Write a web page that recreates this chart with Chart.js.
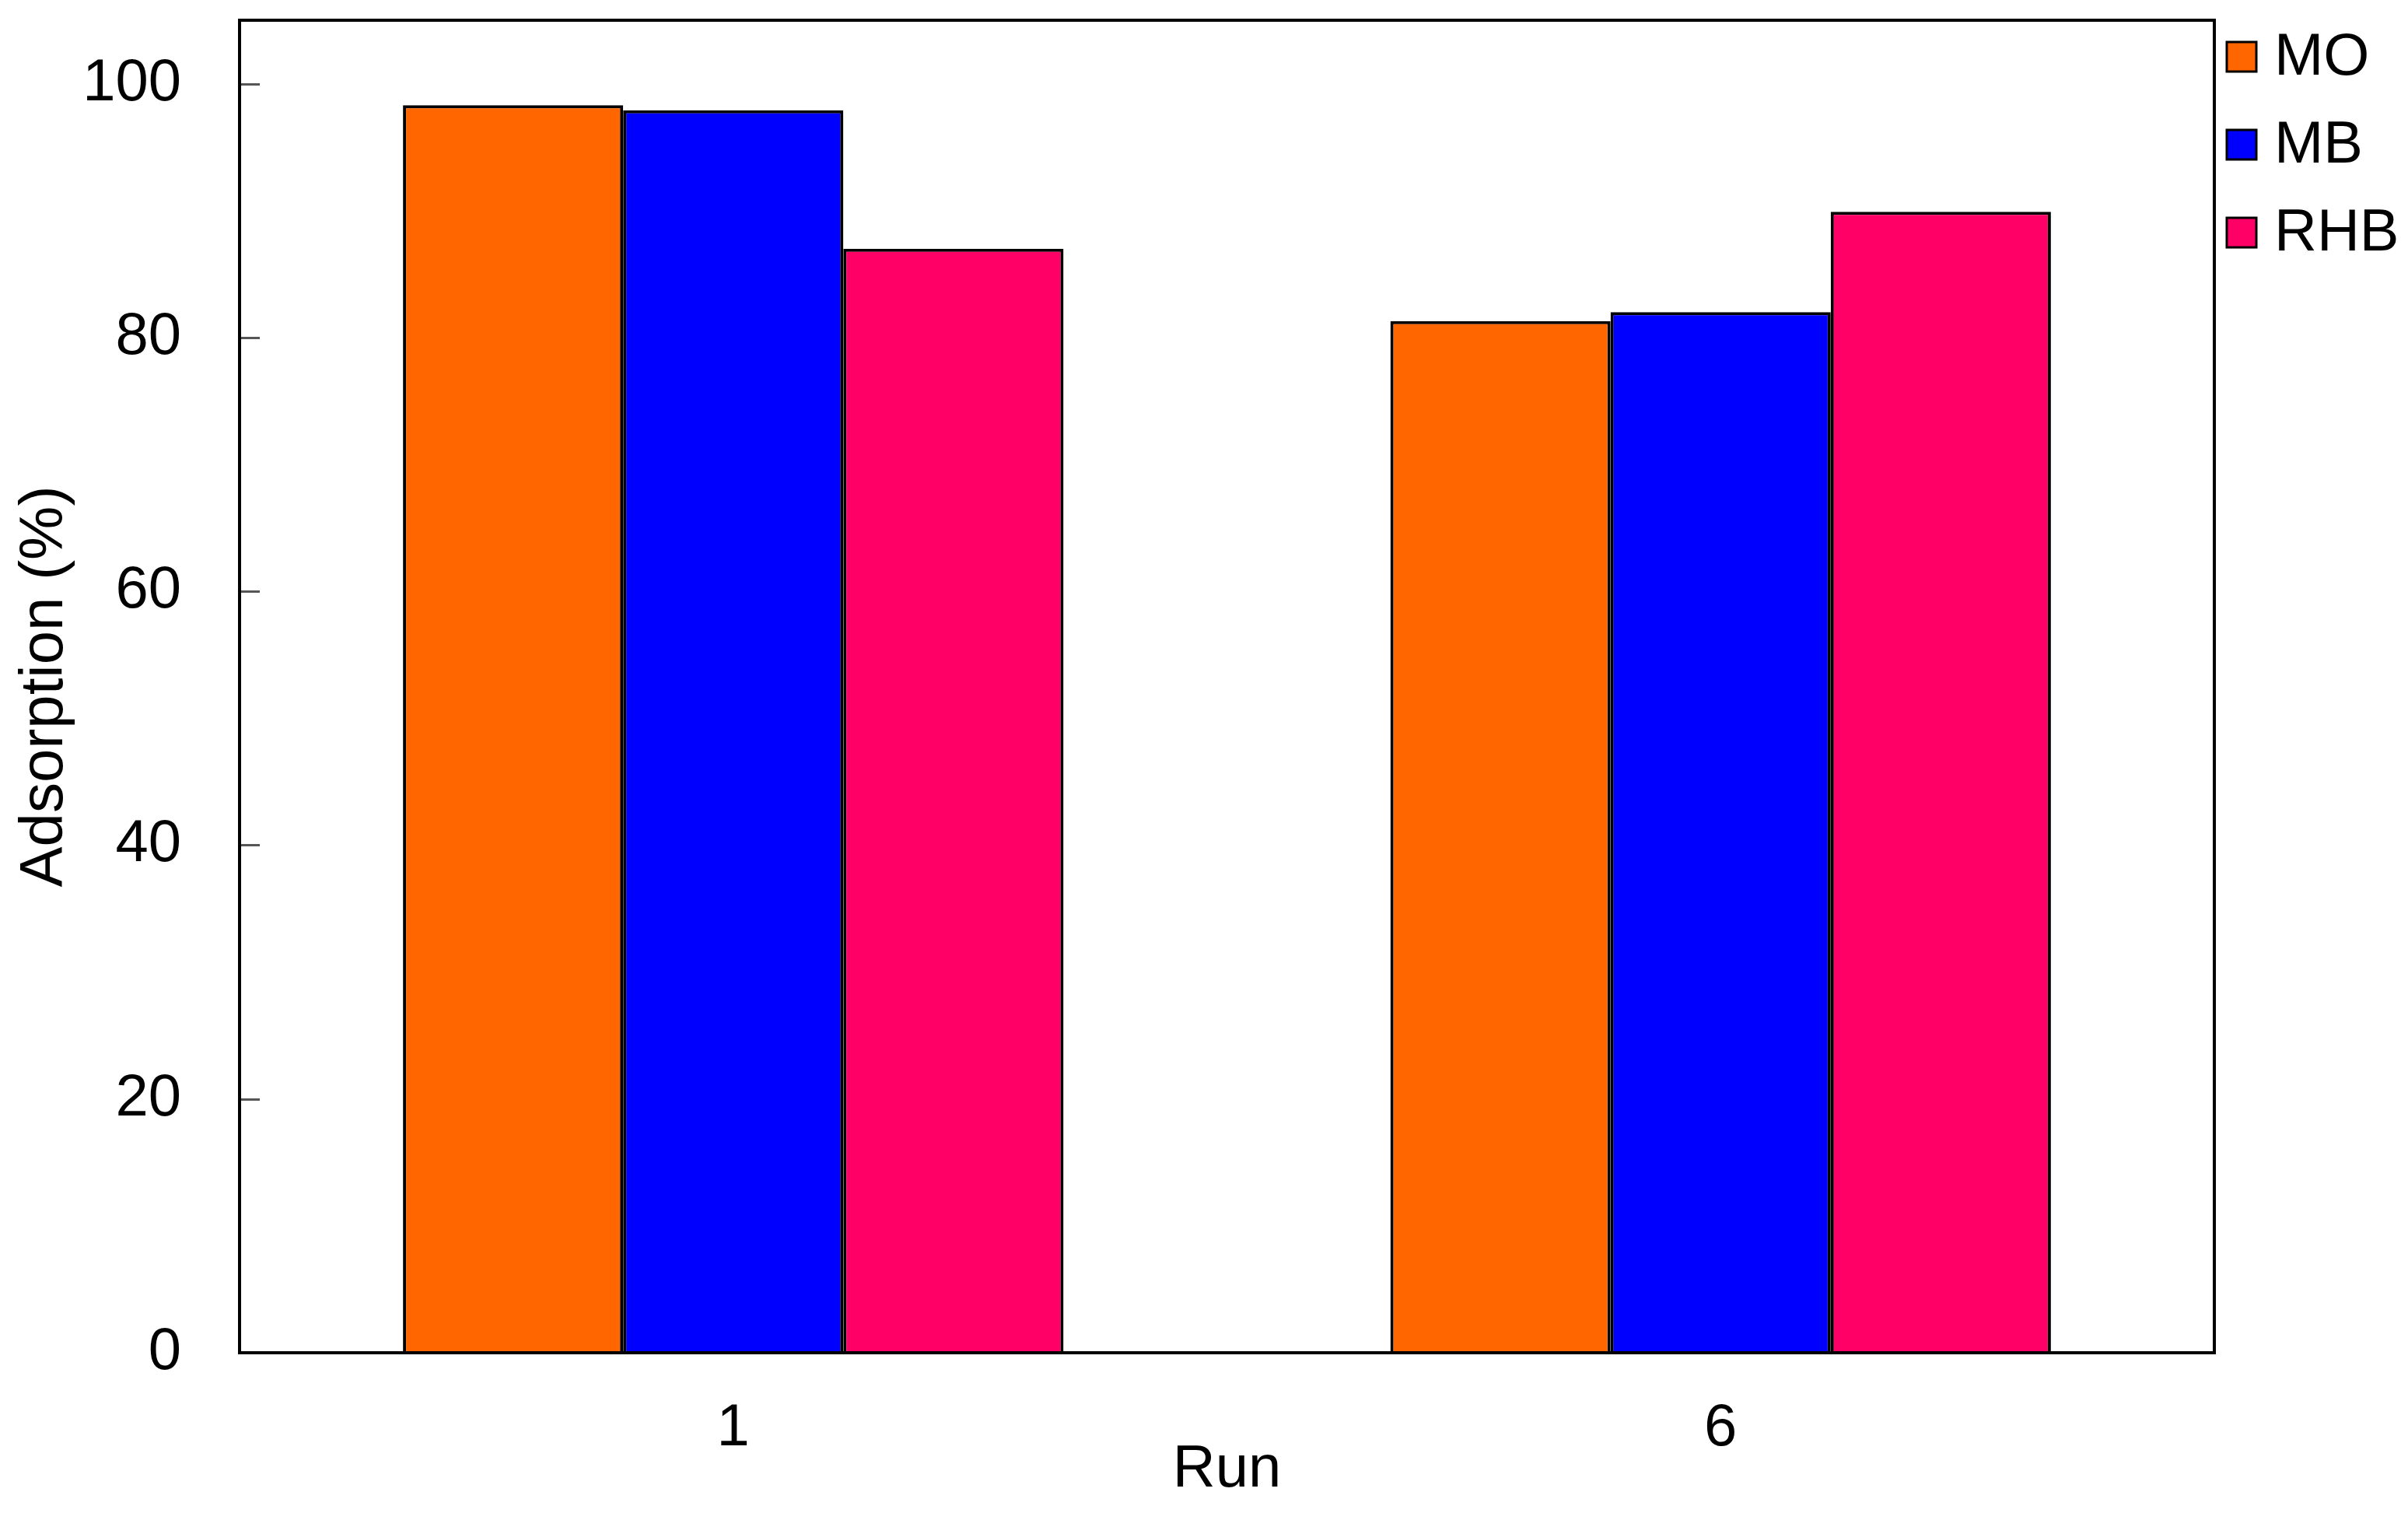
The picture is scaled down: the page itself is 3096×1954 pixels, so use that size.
<!DOCTYPE html>
<html lang="en">
<head>
  <meta charset="UTF-8" />
  <title>Adsorption by Run</title>
  <script src="https://cdn.jsdelivr.net/npm/chart.js"></script>
  <style>
    html, body {
      margin: 0;
      padding: 0;
      background: #ffffff;
    }

    .wrap {
      width: 3096px;
      height: 1954px;
      position: relative;
    }
  </style>
</head>
<body>

  <div class="wrap">
    <canvas id="barChart"></canvas>
  </div>

  <script>
    // values
    const runs = ['1', '6'];
    const moValues = [98.3, 81.3];
    const mbValues = [97.9, 82.0];
    const rhbValues = [87.0, 89.9];
    const yTicks = [0, 20, 40, 60, 80, 100];

    const FONT = "'Liberation Sans', Arial, sans-serif";

    // box around the plot + inward tick marks on the y axis
    const frame = {
      id: 'frame',
      afterDatasetsDraw(chart) {
        const { ctx, chartArea: a } = chart;
        const y = chart.scales.y;
        ctx.save();
        ctx.strokeStyle = '#555';
        ctx.lineWidth = 3;
        yTicks.forEach(v => {
          const py = Math.round(y.getPixelForValue(v)) + 0.5;
          ctx.beginPath();
          ctx.moveTo(a.left, py);
          ctx.lineTo(a.left + 26, py);
          ctx.stroke();
        });
        ctx.strokeStyle = '#000';
        ctx.lineWidth = 4;
        ctx.strokeRect(a.left, a.top, a.right - a.left, a.bottom - a.top);
        ctx.restore();
      }
    };

    // legend drawn outside the right edge of the plot
    const sideLegend = {
      id: 'sideLegend',
      afterDraw(chart) {
        const { ctx, chartArea: a } = chart;
        ctx.save();
        ctx.font = '76px ' + FONT;
        ctx.textBaseline = 'middle';
        chart.data.datasets.forEach((ds, i) => {
          const cy = a.top + 47 + i * 113;
          const bx = a.right + 16;
          ctx.fillStyle = ds.backgroundColor;
          ctx.fillRect(bx, cy - 19, 38, 38);
          ctx.lineWidth = 3;
          ctx.strokeStyle = '#000';
          ctx.strokeRect(bx, cy - 19, 38, 38);
          ctx.fillStyle = '#000';
          ctx.fillText(ds.label, bx + 61, cy + 2);
        });
        ctx.restore();
      }
    };

    const ctx = document.getElementById('barChart').getContext('2d');

    const chart = new Chart(ctx, {
      type: 'bar',
      data: {
        labels: runs,
        datasets: [
          { label: 'MO', data: moValues, backgroundColor: '#FF6600' },
          { label: 'MB', data: mbValues, backgroundColor: '#0000FF' },
          { label: 'RHB', data: rhbValues, backgroundColor: '#FF0066' }
        ]
      },
      options: {
        responsive: true,
        maintainAspectRatio: false,
        animation: false,
        layout: {
          padding: { top: 26, right: 249, bottom: 0, left: 0 }
        },
        datasets: {
          bar: {
            borderColor: '#000',
            borderWidth: 4,
            categoryPercentage: 0.669,
            barPercentage: 1.0
          }
        },
        plugins: {
          legend: { display: false },
          tooltip: { enabled: false }
        },
        scales: {
          x: {
            grid: { display: false },
            border: { display: false },
            ticks: {
              color: '#000',
              font: { family: FONT, size: 76 },
              padding: 44
            },
            title: {
              display: true,
              text: 'Run',
              color: '#000',
              font: { family: FONT, size: 76 },
              padding: { top: 0, bottom: 18 }
            },
            afterFit(scale) {
              scale.height = 215;
              scale.paddingLeft = 0;
              scale.paddingRight = 0;
            }
          },
          y: {
            min: 0,
            max: 105,
            grid: { display: false },
            border: { display: false },
            ticks: {
              color: '#000',
              font: { family: FONT, size: 76 },
              padding: 67
            },
            afterBuildTicks(scale) {
              scale.ticks = yTicks.map(v => ({ value: v }));
            },
            title: {
              display: true,
              text: 'Adsorption (%)',
              color: '#000',
              font: { family: FONT, size: 78 },
              padding: { top: 12, bottom: 0 }
            },
            afterFit(scale) {
              scale.width = 308;
              scale.paddingTop = 0;
              scale.paddingBottom = 0;
            }
          }
        }
      },
      plugins: [frame, sideLegend]
    });
  </script>

</body>
</html>
